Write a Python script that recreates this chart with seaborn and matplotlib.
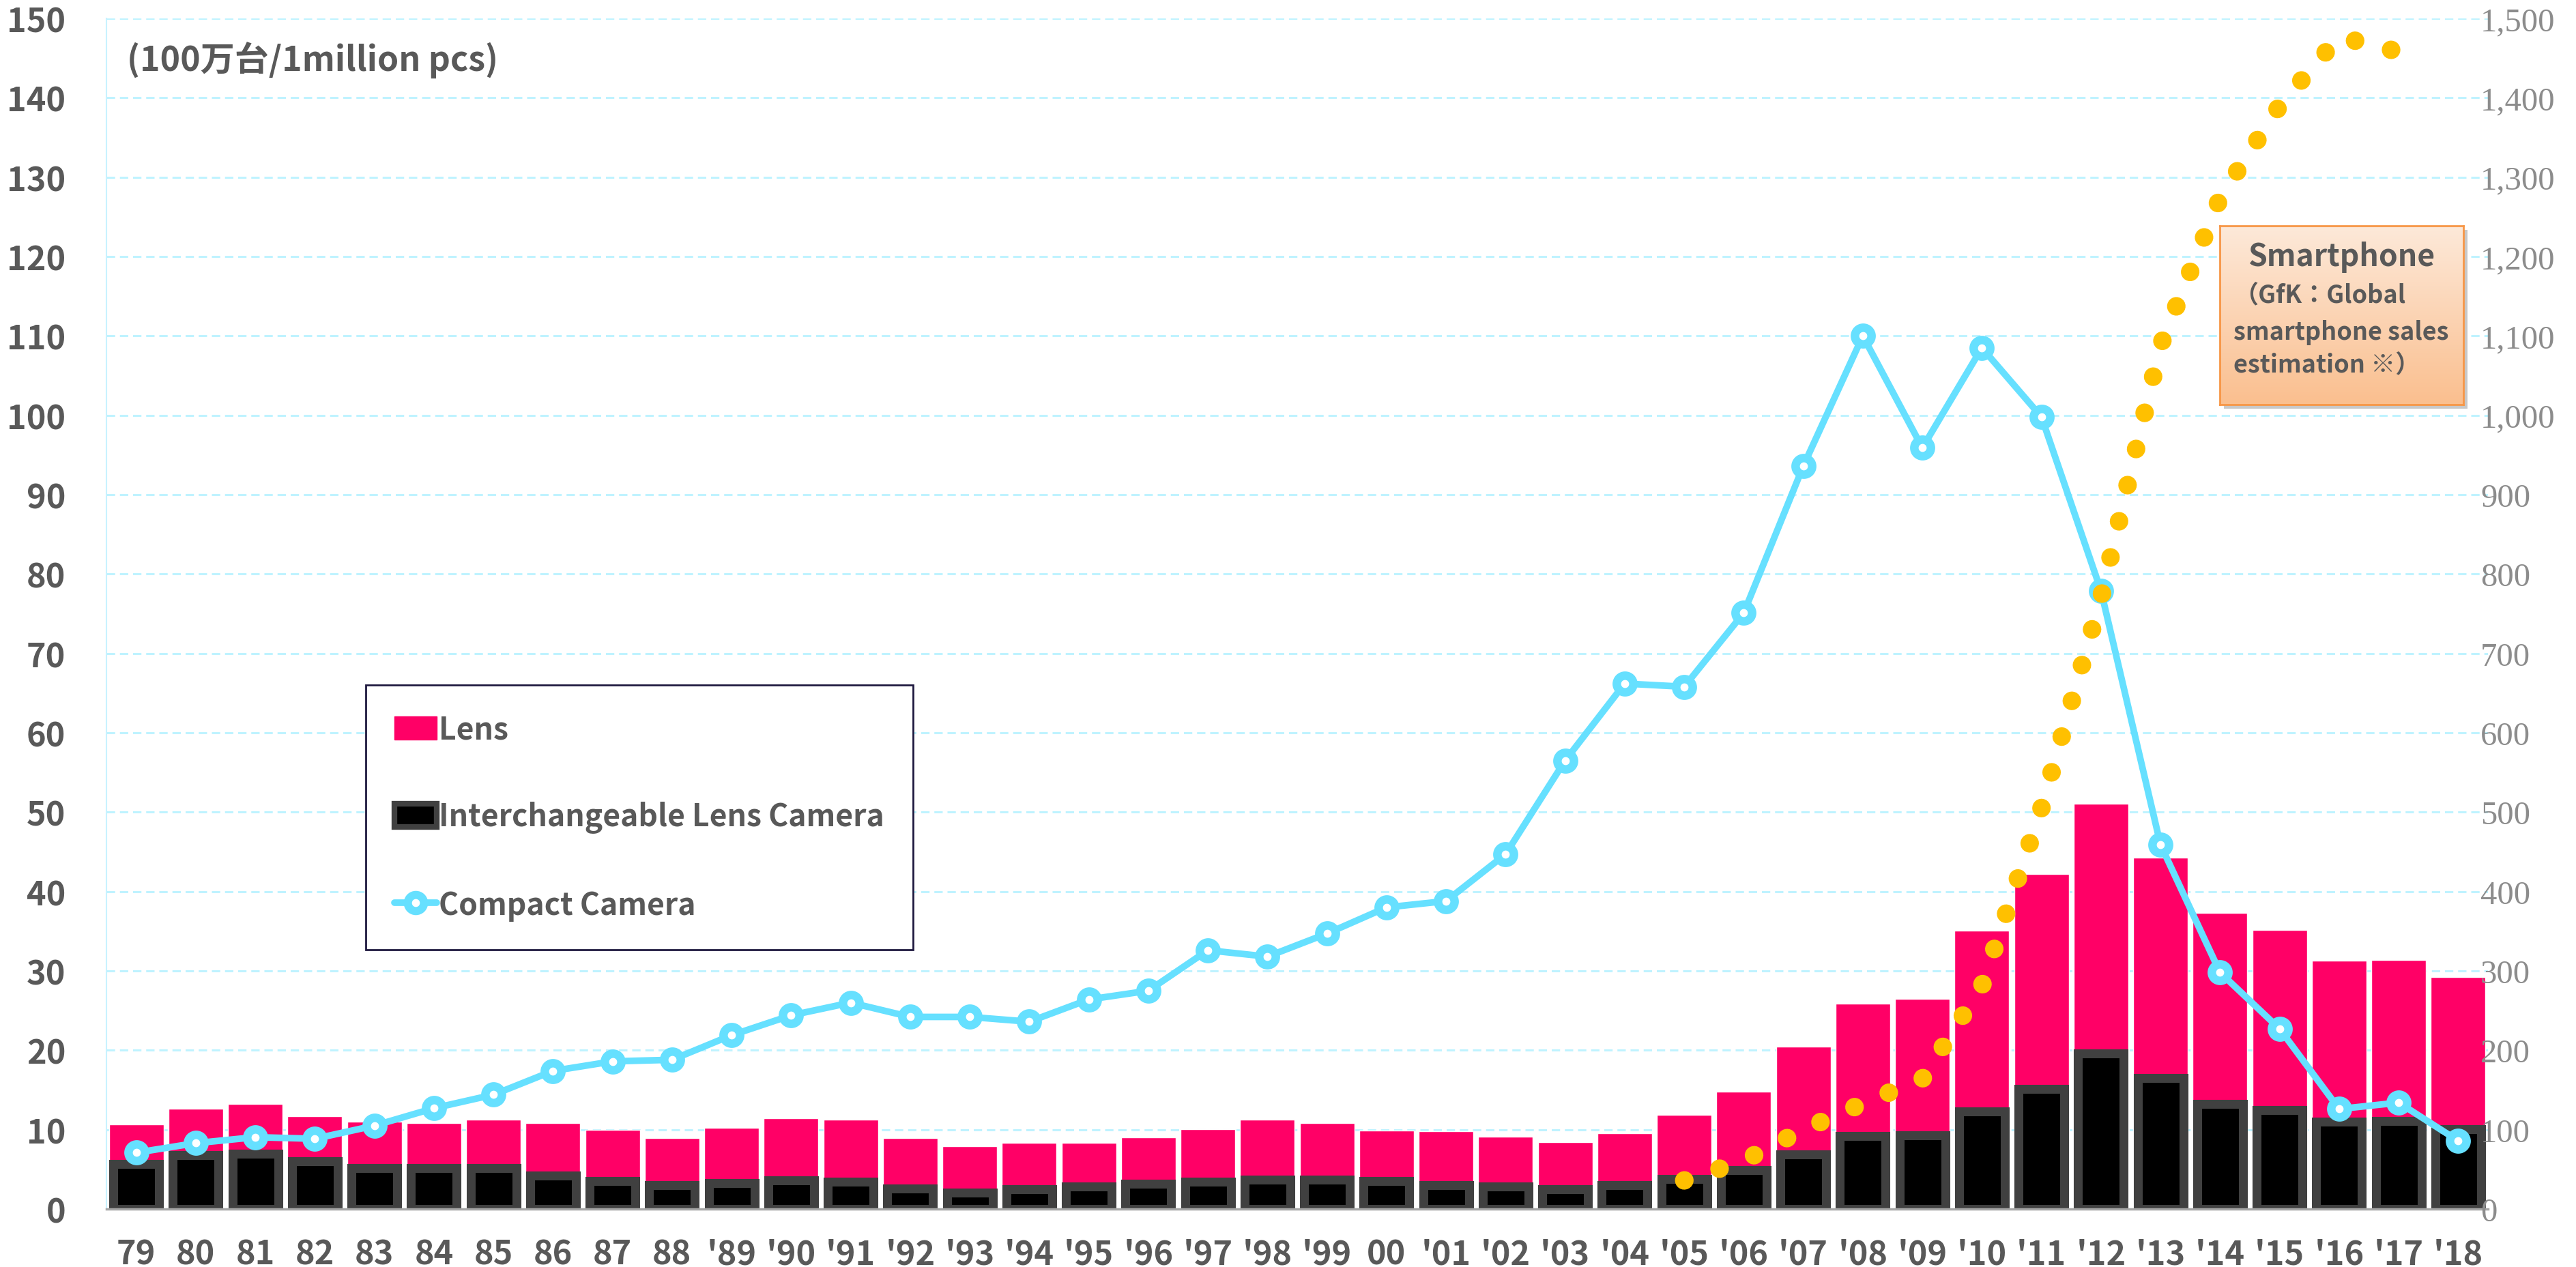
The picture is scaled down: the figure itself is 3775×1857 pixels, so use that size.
import numpy as np
import seaborn as sns
import matplotlib.pyplot as plt
from matplotlib.patches import Patch, Rectangle
from matplotlib.lines import Line2D
from matplotlib.colors import LinearSegmentedColormap

# data (100万台 / million units)
years = ["79", "80", "81", "82", "83", "84", "85", "86", "87", "88",
         "'89", "'90", "'91", "'92", "'93", "'94", "'95", "'96", "'97", "'98",
         "'99", "00", "'01", "'02", "'03", "'04", "'05", "'06", "'07", "'08",
         "'09", "'10", "'11", "'12", "'13", "'14", "'15", "'16", "'17", "'18"]

ilc = [5.7, 6.8, 7.0, 6.0, 5.2, 5.2, 5.2, 4.2, 3.5, 3.0,
       3.3, 3.6, 3.4, 2.6, 2.1, 2.5, 2.8, 3.2, 3.4, 3.7,
       3.7, 3.5, 3.0, 2.8, 2.5, 3.0, 3.8, 4.9, 6.9, 9.2,
       9.3, 12.3, 15.1, 19.6, 16.5, 13.2, 12.5, 11.0, 11.1, 10.1]

lens = [5.0, 5.8, 6.2, 5.7, 5.8, 5.6, 6.1, 6.6, 6.5, 5.9,
        6.9, 7.8, 7.9, 6.3, 5.8, 5.8, 5.5, 5.8, 6.7, 7.6,
        7.1, 6.4, 6.8, 6.3, 5.9, 6.5, 8.1, 9.9, 13.6, 16.7,
        17.2, 22.8, 27.1, 31.5, 27.8, 24.1, 22.7, 20.3, 20.3, 19.1]

compact = [7.1, 8.3, 9.05, 8.85, 10.5, 12.7, 14.4, 17.4, 18.6, 18.8,
           21.9, 24.4, 26.0, 24.2, 24.2, 23.6, 26.4, 27.5, 32.6, 31.8,
           34.7, 38.0, 38.8, 44.7, 56.5, 66.2, 65.8, 75.1, 93.6, 110.0,
           95.9, 108.5, 99.8, 77.9, 45.9, 29.8, 22.7, 12.6, 13.4, 8.6]

# smartphone (right axis, GfK estimate)
sp_years = ["'05", "'06", "'07", "'08", "'09", "'10", "'11", "'12", "'13",
            "'14", "'15", "'16", "'17"]
smartphone = [36, 61, 100, 133, 164, 281, 505, 770, 1088, 1274, 1390, 1477, 1458]

PINK = "#FF0066"
CYAN = "#66E0FF"
GOLD = "#FFC000"
TXT = "#595959"

sns.set_theme(style="white")
plt.rcParams["font.family"] = ["Noto Sans CJK JP", "DejaVu Sans"]

W, H = 3775, 1858
fig = plt.figure(figsize=(W / 100, H / 100), dpi=100)
ax = fig.add_axes([156 / W, 1 - 1773 / H, 3490 / W, 1745 / H])

xpos = np.arange(len(years))
stack_top = np.array(ilc) + np.array(lens)

# stacked bars: total (pink) first, ILC (black) over it
sns.barplot(x=years, y=stack_top, color=PINK, width=0.917, saturation=1,
            errorbar=None, ax=ax, zorder=2)
sns.barplot(x=years, y=ilc, color="black", width=0.768, saturation=1,
            edgecolor="#404040", linewidth=9.4, errorbar=None, ax=ax, zorder=2)

sns.lineplot(x=xpos, y=compact, ax=ax, color=CYAN, linewidth=7, marker="o",
             markersize=17.5, markerfacecolor="white", markeredgecolor=CYAN,
             markeredgewidth=9, errorbar=None, zorder=4)

ax.set_ylim(0, 150)
ax.set_xlim(-0.5, len(years) - 0.5)
ax.set_yticks(range(0, 151, 10))
ax.set_xticks(xpos, years)
ax.set_xticks(np.arange(-0.5, len(years), 1), minor=True)
ax.set_xlabel("")
ax.set_ylabel("")
ax.set_axisbelow(True)
ax.yaxis.grid(True, color="#BFF3FF", linestyle=(0, (4, 2.3)), linewidth=2.2)
ax.xaxis.grid(False)

ax.tick_params(axis="y", length=0, pad=43, labelsize=35, labelcolor=TXT)
ax.tick_params(axis="x", which="major", length=0, pad=30, labelsize=35, labelcolor=TXT)
ax.tick_params(axis="x", which="minor", length=10, width=1.5, color="#A6A6A6", direction="out")
for lbl in ax.get_xticklabels() + ax.get_yticklabels():
    lbl.set_fontweight("bold")

for s in ["top", "right"]:
    ax.spines[s].set_visible(False)
ax.spines["left"].set_color("#C8F2FF")
ax.spines["left"].set_linewidth(1.5)
ax.spines["bottom"].set_color("#A6A6A6")
ax.spines["bottom"].set_linewidth(2.5)

# right axis: smartphone
ax2 = ax.twinx()
sp_pos = [years.index(y) for y in sp_years]
sns.lineplot(x=sp_pos, y=smartphone, ax=ax2, color=GOLD, linewidth=19.5,
             linestyle=(0, (0.01, 2)), dash_capstyle="round", errorbar=None)
ax2.set_ylim(0, 1500)
rticks = list(range(0, 1501, 100))
ax2.set_yticks(rticks, [f"{v:,}" for v in rticks], fontfamily="Liberation Serif")
ax2.tick_params(axis="y", length=0, pad=-8, labelsize=35, labelcolor="#8C8C8C")
ax2.set_ylabel("")
ax2.grid(False)
for s in ax2.spines.values():
    s.set_visible(False)

ax.text(30 / 3490, (1773 - 88) / 1745, "(100万台/1million pcs)", transform=ax.transAxes,
        va="center", ha="left", fontsize=36, color=TXT, fontweight="bold")

# legend
handles = [
    Patch(facecolor=PINK, edgecolor=PINK),
    Patch(facecolor="black", edgecolor="#404040", linewidth=6),
    Line2D([], [], color=CYAN, lw=7, marker="o", ms=17, mfc="white", mec=CYAN, mew=8.6),
]
leg = ax.legend(handles, ["Lens", "Interchangeable Lens Camera", "Compact Camera"],
                loc="upper left", bbox_to_anchor=(536 / W, 1 - 1005 / H),
                bbox_transform=fig.transFigure, borderaxespad=0,
                prop={"size": 32, "weight": "bold"}, labelcolor=TXT,
                frameon=True, fancybox=False, framealpha=1, edgecolor="#1F1A40",
                borderpad=0.95, labelspacing=1.85, handlelength=1.4,
                handleheight=0.8, handletextpad=0.05)
leg.get_frame().set_linewidth(2)
leg.set_zorder(10)

# annotation box (gradient fill)
bx, by, bw, bh = 3253 / W, 1 - 594 / H, 357 / W, 262 / H
fig.patches.append(Rectangle((bx + 6 / W, by - 6 / H), bw, bh, transform=fig.transFigure,
                             facecolor="#C8C8C8", edgecolor="none", zorder=5))
box = fig.add_axes([bx, by, bw, bh], zorder=6)
cmap = LinearSegmentedColormap.from_list("orange_grad", ["#FDE9D9", "#FABF8F"])
box.imshow(np.linspace(0, 1, 200).reshape(-1, 1), aspect="auto", cmap=cmap,
           extent=[0, 1, 0, 1], origin="upper")
box.set_xticks([])
box.set_yticks([])
for s in box.spines.values():
    s.set_color("#F79646")
    s.set_linewidth(2)
box.text(0.5, 0.828, "Smartphone", ha="center", va="center", fontsize=32,
         color=TXT, fontweight="bold", transform=box.transAxes)
for txt, yy in [("（GfK：Global", 0.615), ("smartphone sales", 0.408), ("estimation ※）", 0.225)]:
    box.text(0.056, yy, txt, ha="left", va="center", fontsize=26, color=TXT,
             fontweight="bold", transform=box.transAxes)

fig.savefig("out.png", dpi=100)
